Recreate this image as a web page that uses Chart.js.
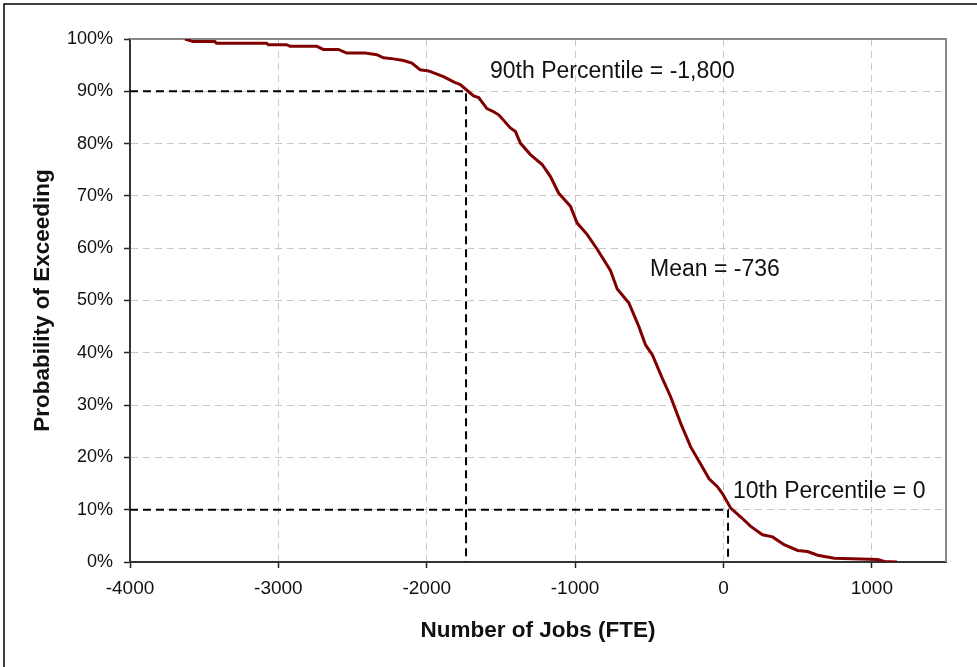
<!DOCTYPE html>
<html>
<head>
<meta charset="utf-8">
<title>Probability of Exceeding</title>
<script src="https://cdn.jsdelivr.net/npm/chart.js@4/dist/chart.umd.min.js"></script>
<style>
  html, body { margin: 0; padding: 0; background: #fff; }
  #wrap { width: 977px; height: 667px; position: relative; }
</style>
</head>
<body>
<div id="wrap"><canvas id="cdf"></canvas></div>
<script>
// exceedance curve
const jobs = [-3629, -3575, -3428, -3417, -3079, -3068, -2944, -2922, -2741, -2697,
  -2596, -2539, -2415, -2336, -2292, -2224, -2157, -2100, -2044, -1988,
  -1931, -1887, -1819, -1774, -1729, -1684, -1650, -1594, -1549, -1515,
  -1436, -1402, -1369, -1301, -1222, -1166, -1110, -1031, -986, -918,
  -851, -761, -716, -637, -570, -525, -479, -412, -356, -288,
  -221, -153, -97, -41, -7, 49, 117, 184, 263, 331,
  409, 500, 567, 635, 747, 1040, 1084, 1170];
const probExceed = [100, 99.5, 99.5, 99.2, 99.2, 98.9, 98.9, 98.6, 98.6, 98.0,
  98.0, 97.3, 97.3, 97.0, 96.4, 96.2, 95.9, 95.4, 94.1, 93.9,
  93.3, 92.8, 91.8, 91.3, 90.2, 89.1, 88.8, 86.7, 86.1, 85.5,
  83.0, 82.3, 80.1, 77.9, 76.0, 73.7, 70.5, 68.0, 64.8, 62.6,
  59.8, 55.7, 52.2, 49.5, 45.0, 41.5, 39.6, 35.1, 31.6, 26.5,
  22.0, 18.7, 15.9, 14.4, 13.1, 10.3, 8.6, 6.8, 5.2, 4.8,
  3.3, 2.2, 2.0, 1.3, 0.7, 0.5, 0.1, 0];

// dashed percentile guides
const percentileJobs = [-1735, 31];
const percentileProb = [90, 10];

const xTicks = [-4000, -3000, -2000, -1000, 0, 1000];
const yTicks = [0, 10, 20, 30, 40, 50, 60, 70, 80, 90, 100];

const notes = ['90th Percentile = -1,800', 'Mean = -736', '10th Percentile = 0'];

const guide = (i) => [
  { x: -4000, y: percentileProb[i] },
  { x: percentileJobs[i], y: percentileProb[i] },
  { x: percentileJobs[i], y: 0 }
];

// frame, plot border and text notes
const extras = {
  id: 'extras',
  beforeDatasetsDraw(chart) {
    const { ctx, chartArea: a } = chart;
    ctx.save();
    ctx.strokeStyle = '#888888';
    ctx.lineWidth = 2;
    ctx.beginPath();
    ctx.moveTo(a.left, a.top);
    ctx.lineTo(a.right, a.top);
    ctx.lineTo(a.right, a.bottom);
    ctx.stroke();
    ctx.restore();
  },
  afterDraw(chart) {
    const { ctx } = chart;
    ctx.save();
    ctx.strokeStyle = '#000';
    ctx.lineWidth = 1.5;
    ctx.strokeRect(4, 4, 1000, 700);
    ctx.fillStyle = '#111';
    ctx.font = '23px "Liberation Sans", Arial, sans-serif';
    ctx.textBaseline = 'middle';
    ctx.textAlign = 'left';
    ctx.fillText(notes[0], 490, 72);
    ctx.fillText(notes[1], 650, 270);
    ctx.fillText(notes[2], 733, 492);
    ctx.restore();
  }
};

const ctx = document.getElementById('cdf').getContext('2d');
new Chart(ctx, {
  type: 'scatter',
  data: {
    datasets: [
      {
        data: jobs.map((x, i) => ({ x: x, y: probExceed[i] })),
        showLine: true,
        borderColor: '#800000',
        borderWidth: 3,
        pointRadius: 0,
        tension: 0
      },
      {
        data: guide(0),
        showLine: true,
        borderColor: '#000',
        borderWidth: 2,
        borderDash: [8, 5],
        pointRadius: 0
      },
      {
        data: guide(1),
        showLine: true,
        borderColor: '#000',
        borderWidth: 2,
        borderDash: [8, 5],
        pointRadius: 0
      }
    ]
  },
  options: {
    responsive: true,
    maintainAspectRatio: false,
    animation: false,
    layout: { padding: { left: 0, top: 39, right: 31, bottom: 0 } },
    plugins: { legend: { display: false }, tooltip: { enabled: false } },
    scales: {
      x: {
        type: 'linear',
        min: -4000,
        max: 1500,
        afterBuildTicks: (s) => { s.ticks = xTicks.map(v => ({ value: v })); },
        afterFit: (s) => { s.height = 105; },
        ticks: {
          color: '#111',
          padding: 9,
          maxRotation: 0,
          font: { family: '"Liberation Sans", Arial, sans-serif', size: 19 },
          callback: (v) => String(v)
        },
        grid: {
          color: '#c8c8c8',
          lineWidth: 1,
          tickLength: 6,
          tickColor: '#222',
          tickWidth: 1.5
        },
        border: { color: '#333', width: 2, dash: [7, 5] },
        title: {
          display: true,
          text: 'Number of Jobs (FTE)',
          color: '#111',
          font: { family: '"Liberation Sans", Arial, sans-serif', size: 22.5, weight: 'bold' },
          padding: { top: 0, bottom: 23 }
        }
      },
      y: {
        min: 0,
        max: 100,
        afterBuildTicks: (s) => { s.ticks = yTicks.map(v => ({ value: v })); },
        afterFit: (s) => { s.width = 130; },
        ticks: {
          color: '#111',
          padding: 11,
          font: { family: '"Liberation Sans", Arial, sans-serif', size: 18 },
          callback: (v) => v + '%'
        },
        grid: {
          color: '#c8c8c8',
          lineWidth: 1,
          tickLength: 6,
          tickColor: '#222',
          tickWidth: 1.5
        },
        border: { color: '#333', width: 2, dash: [7, 5] },
        title: {
          display: true,
          text: 'Probability of Exceeding',
          color: '#111',
          font: { family: '"Liberation Sans", Arial, sans-serif', size: 22.5, weight: 'bold' },
          padding: { top: 29, bottom: 0 }
        }
      }
    }
  },
  plugins: [extras]
});
</script>
</body>
</html>
